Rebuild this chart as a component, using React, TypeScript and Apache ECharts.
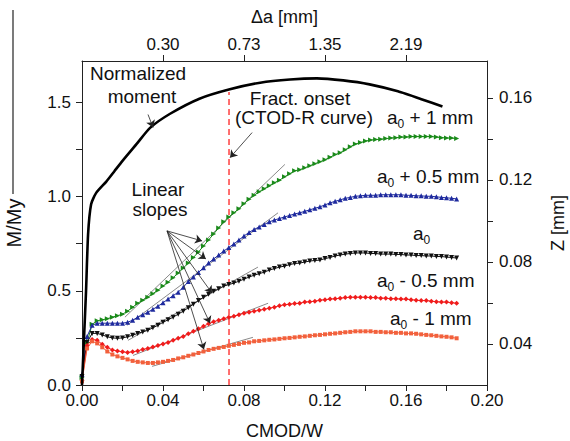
import React, { useEffect, useRef } from 'react';
import * as echarts from 'echarts';

// CMOD/W sampling of the marked curves
const cmod = [0,0.0025,0.005,0.0075,0.01,0.0125,0.015,0.0175,0.02,0.0225,0.025,0.0275,0.03,0.0325,0.035,0.0375,0.04,0.0425,0.045,0.0475,0.05,0.0525,0.055,0.0575,0.06,0.0625,0.065,0.0675,0.07,0.0725,0.075,0.0775,0.08,0.0825,0.085,0.0875,0.09,0.0925,0.095,0.0975,0.1,0.1025,0.105,0.1075,0.11,0.1125,0.115,0.1175,0.12,0.1225,0.125,0.1275,0.13,0.1325,0.135,0.1375,0.14,0.1425,0.145,0.1475,0.15,0.1525,0.155,0.1575,0.16,0.1625,0.165,0.1675,0.17,0.1725,0.175,0.1775,0.18,0.1825,0.185];

const a0Plus1 = [0.040,0.226,0.322,0.341,0.346,0.352,0.360,0.368,0.376,0.392,0.413,0.434,0.450,0.466,0.485,0.503,0.525,0.546,0.570,0.594,0.621,0.647,0.677,0.706,0.738,0.770,0.802,0.834,0.866,0.892,0.914,0.935,0.962,0.986,1.007,1.026,1.042,1.058,1.074,1.087,1.105,1.121,1.137,1.143,1.153,1.164,1.175,1.185,1.196,1.209,1.223,1.233,1.249,1.265,1.279,1.287,1.295,1.300,1.303,1.305,1.308,1.311,1.313,1.316,1.316,1.319,1.319,1.319,1.319,1.319,1.316,1.313,1.311,1.311,1.308];
const a0Plus05 = [0.056,0.258,0.317,0.328,0.328,0.328,0.328,0.328,0.328,0.333,0.344,0.360,0.373,0.386,0.402,0.418,0.437,0.456,0.474,0.493,0.519,0.549,0.573,0.597,0.623,0.647,0.669,0.690,0.711,0.730,0.749,0.770,0.791,0.810,0.826,0.839,0.852,0.866,0.876,0.884,0.892,0.900,0.908,0.914,0.922,0.930,0.938,0.946,0.956,0.967,0.975,0.983,0.991,0.996,1.002,1.004,1.007,1.007,1.007,1.010,1.010,1.010,1.010,1.010,1.007,1.007,1.004,1.004,1.002,1.002,0.999,0.996,0.994,0.991,0.988];
const a0 = [0.045,0.226,0.274,0.274,0.266,0.256,0.250,0.248,0.250,0.256,0.264,0.274,0.282,0.290,0.304,0.317,0.333,0.346,0.360,0.376,0.392,0.410,0.429,0.448,0.466,0.482,0.498,0.511,0.525,0.533,0.541,0.551,0.562,0.573,0.583,0.591,0.599,0.610,0.618,0.626,0.631,0.639,0.645,0.647,0.653,0.658,0.661,0.663,0.671,0.677,0.685,0.690,0.695,0.698,0.701,0.701,0.701,0.698,0.698,0.695,0.695,0.695,0.693,0.693,0.690,0.690,0.687,0.687,0.685,0.685,0.682,0.682,0.679,0.677,0.674];
const a0Minus05 = [0.024,0.210,0.242,0.237,0.216,0.200,0.186,0.181,0.176,0.173,0.176,0.181,0.189,0.194,0.202,0.210,0.218,0.226,0.237,0.248,0.258,0.272,0.285,0.298,0.312,0.325,0.336,0.344,0.352,0.360,0.365,0.373,0.381,0.386,0.392,0.397,0.402,0.408,0.413,0.421,0.426,0.429,0.432,0.434,0.440,0.442,0.445,0.450,0.453,0.456,0.458,0.461,0.464,0.466,0.466,0.466,0.466,0.464,0.464,0.461,0.461,0.458,0.458,0.456,0.456,0.453,0.450,0.448,0.448,0.445,0.442,0.440,0.440,0.437,0.434];
const a0Minus1 = [0.019,0.194,0.232,0.221,0.200,0.178,0.162,0.152,0.144,0.136,0.128,0.123,0.120,0.117,0.117,0.120,0.123,0.128,0.133,0.141,0.147,0.155,0.162,0.170,0.178,0.186,0.192,0.197,0.202,0.208,0.213,0.218,0.224,0.226,0.232,0.234,0.237,0.240,0.242,0.245,0.248,0.250,0.253,0.256,0.258,0.261,0.264,0.266,0.269,0.272,0.274,0.277,0.280,0.282,0.285,0.285,0.285,0.285,0.282,0.282,0.280,0.280,0.277,0.277,0.274,0.274,0.272,0.269,0.266,0.264,0.261,0.258,0.256,0.253,0.248];

// Normalized moment curve
const momentX = [0,0.001,0.002,0.003,0.0045,0.007,0.012,0.016,0.02,0.027,0.0336,0.0435,0.058,0.073,0.088,0.1027,0.116,0.129,0.142,0.156,0.168,0.178];
const momentY = [0,0.25,0.5,0.8,0.96,1.02,1.08,1.135,1.19,1.28,1.365,1.44,1.52,1.57,1.605,1.622,1.628,1.617,1.596,1.559,1.516,1.478];

// Fracture onset line
const onsetX = 0.0726;
const onsetTop = 1.555;

// Linear slope segments [x1, y1, x2, y2]
const slopes = [
  [0.0212, 0.360, 0.1002, 1.171],
  [0.0222, 0.317, 0.0968, 0.914],
  [0.0227, 0.237, 0.0869, 0.626],
  [0.0252, 0.157, 0.0919, 0.434],
  [0.0346, 0.099, 0.0844, 0.253],
];

// Annotation arrows [x1, y1, x2, y2]
const arrows = [
  [0.0326, 1.436, 0.0351, 1.367],
  [0.0840, 1.340, 0.0731, 1.207],
  [0.0420, 0.818, 0.0593, 0.765],
  [0.0420, 0.818, 0.0612, 0.669],
  [0.0420, 0.818, 0.0642, 0.488],
  [0.0420, 0.818, 0.0632, 0.328],
  [0.0420, 0.818, 0.0602, 0.189],
];

const xMin = 0;
const xMax = 0.2;
const yMin = 0;
const yMax = 1.72;
const topTicks = [0.04, 0.08, 0.12, 0.16];
const topLabels = ['0.30', '0.73', '1.35', '2.19'];
const zMajor = [0.04, 0.08, 0.12, 0.16];
const zTicks = [0.04, 0.06, 0.08, 0.10, 0.12, 0.14, 0.16];
const leftMajor = [0, 0.5, 1.0, 1.5];
const leftTicks = [0, 0.25, 0.5, 0.75, 1.0, 1.25, 1.5];
const bottomMajor = [0, 0.04, 0.08, 0.12, 0.16, 0.2];
const bottomTicks = [0, 0.02, 0.04, 0.06, 0.08, 0.1, 0.12, 0.14, 0.16, 0.18, 0.2];

const GRID = { left: 82, right: 83, top: 61, bottom: 56 };

const FONT = '"Liberation Sans", Arial, Helvetica, sans-serif';
const TICK_FS = 17;
const NAME_FS = 18;
const ANN_FS = 19;
const AXIS_COLOR = '#222';

function txt(x: number, y: number, s: string, size = ANN_FS, align = 'left') {
  return {
    type: 'text', x, y, silent: true,
    style: { text: s, fontSize: size, fontFamily: FONT, fill: '#111', align, verticalAlign: 'middle' },
  };
}

function subLabel(x: number, y: number, rest: string) {
  const aw = 0.556 * ANN_FS;
  const out: any[] = [txt(x, y, 'a'), txt(x + aw, y + 7, '0', 12)];
  if (rest) out.push(txt(x + aw + 6.7, y, rest));
  return out;
}

const als = () => ({ color: AXIS_COLOR, width: 1 });

export default function App() {
  const ref = useRef<HTMLDivElement>(null);
  useEffect(() => {
    if (!ref.current) return;
    const chart = echarts.init(ref.current, null, { renderer: 'svg' });
    const mk = (vals: number[]) => cmod.map((x, i) => [x, vals[i]]);
    const curve = (name: string, vals: number[], color: string, symbol: string, rot: number, size: number) => ({
      name, type: 'line', data: mk(vals), symbol, symbolSize: size, symbolRotate: rot,
      lineStyle: { color, width: 1 }, itemStyle: { color }, z: 3,
    });
    const graphic: any[] = [
      { type: 'line', shape: { x1: 13, y1: 10, x2: 13, y2: 194 }, style: { stroke: '#222', lineWidth: 1.2 }, silent: true },
      txt(138, 73, 'Normalized', ANN_FS, 'center'),
      txt(142, 96, 'moment', ANN_FS, 'center'),
      txt(300, 98, 'Fract. onset', ANN_FS, 'center'),
      txt(304, 117, '(CTOD-R curve)', ANN_FS, 'center'),
      txt(158, 189, 'Linear', ANN_FS, 'center'),
      txt(160, 209, 'slopes', ANN_FS, 'center'),
      ...subLabel(387, 117, ' + 1 mm'),
      ...subLabel(377, 176, ' + 0.5 mm'),
      ...subLabel(413, 233, ''),
      ...subLabel(377, 280, ' - 0.5 mm'),
      ...subLabel(390, 318, ' - 1 mm'),
    ];
    const option: any = {
      animation: false,
      backgroundColor: '#fff',
      grid: { ...GRID, containLabel: false, outerBoundsMode: 'none' },
      xAxis: [
        {
          type: 'value', min: xMin, max: xMax, position: 'bottom',
          name: 'CMOD/W', nameLocation: 'middle', nameGap: 37,
          nameTextStyle: { fontSize: NAME_FS, fontFamily: FONT, color: '#111' },
          axisLine: { show: true, onZero: false, lineStyle: als() },
          axisTick: { show: true, length: 6, customValues: bottomTicks, lineStyle: als() },
          axisLabel: { customValues: bottomMajor, formatter: (v: number) => v.toFixed(2), fontSize: TICK_FS, fontFamily: FONT, color: '#111', margin: 7 },
          splitLine: { show: false },
        },
        {
          type: 'value', min: xMin, max: xMax, position: 'top',
          name: 'Δa [mm]', nameLocation: 'middle', nameGap: 35,
          nameTextStyle: { fontSize: NAME_FS, fontFamily: FONT, color: '#111' },
          axisLine: { show: true, onZero: false, lineStyle: als() },
          axisTick: { show: true, inside: false, length: 6, customValues: topTicks, lineStyle: als() },
          axisLabel: {
            customValues: topTicks,
            formatter: (v: number) => { const i = topTicks.findIndex((t) => Math.abs(t - v) < 1e-6); return i >= 0 ? topLabels[i] : ''; },
            fontSize: TICK_FS, fontFamily: FONT, color: '#111', margin: 8,
          },
          splitLine: { show: false },
        },
      ],
      yAxis: [
        {
          type: 'value', min: yMin, max: yMax, position: 'left',
          name: 'M/My', nameLocation: 'middle', nameGap: 58, nameRotate: 90,
          nameTextStyle: { fontSize: NAME_FS + 2, fontFamily: FONT, color: '#111' },
          axisLine: { show: true, onZero: false, lineStyle: als() },
          axisTick: { show: true, length: 6, customValues: leftTicks, lineStyle: als() },
          axisLabel: { customValues: leftMajor, formatter: (v: number) => v.toFixed(1), fontSize: TICK_FS, fontFamily: FONT, color: '#111', margin: 11 },
          splitLine: { show: false },
        },
        {
          type: 'value', min: 0.02, max: 0.178, position: 'right',
          name: 'Z [mm]', nameLocation: 'middle', nameGap: 62, nameRotate: 90,
          nameTextStyle: { fontSize: NAME_FS, fontFamily: FONT, color: '#111' },
          axisLine: { show: true, onZero: false, lineStyle: als() },
          axisTick: { show: true, length: 6, customValues: zTicks, lineStyle: als() },
          axisLabel: { customValues: zMajor, formatter: (v: number) => v.toFixed(2), fontSize: TICK_FS, fontFamily: FONT, color: '#111', margin: 12 },
          splitLine: { show: false },
        },
      ],
      series: [
        {
          name: 'Normalized moment', type: 'line', data: momentX.map((x, i) => [x, momentY[i]]),
          symbol: 'none', smooth: 0.2, lineStyle: { color: '#000', width: 2.6 }, z: 4,
        },
        ...slopes.map((s, i) => ({
          name: 'slope' + i, type: 'line', data: [[s[0], s[1]], [s[2], s[3]]], symbol: 'none',
          lineStyle: { color: '#8a8a8a', width: 1 }, z: 2,
        })),
        {
          name: 'onset', type: 'line', data: [[onsetX, 0], [onsetX, onsetTop]], symbol: 'none',
          lineStyle: { color: '#ff4a4a', width: 1.6, type: [6, 4] }, z: 2,
        },
        curve('a0 + 1 mm', a0Plus1, '#1a8a1a', 'triangle', -90, 5),
        curve('a0 + 0.5 mm', a0Plus05, '#1e2a9e', 'triangle', 0, 5),
        curve('a0', a0, '#111111', 'triangle', 180, 5),
        curve('a0 - 0.5 mm', a0Minus05, '#f01c1c', 'diamond', 0, 5),
        curve('a0 - 1 mm', a0Minus1, '#f2603c', 'rect', 0, 4),
        {
          name: 'arrows', type: 'lines', coordinateSystem: 'cartesian2d', xAxisIndex: 0, yAxisIndex: 0,
          symbol: ['none', 'arrow'], symbolSize: 7,
          lineStyle: { color: '#222', width: 0.8, opacity: 1, curveness: 0 },
          data: arrows.map((a) => ({ coords: [[a[0], a[1]], [a[2], a[3]]] })),
          z: 5,
        },
      ],
      graphic,
    };
    chart.setOption(option);
    return () => chart.dispose();
  }, []);
  return <div ref={ref} style={{ position: 'fixed', left: 0, top: 0, width: 570, height: 441 }} />;
}
